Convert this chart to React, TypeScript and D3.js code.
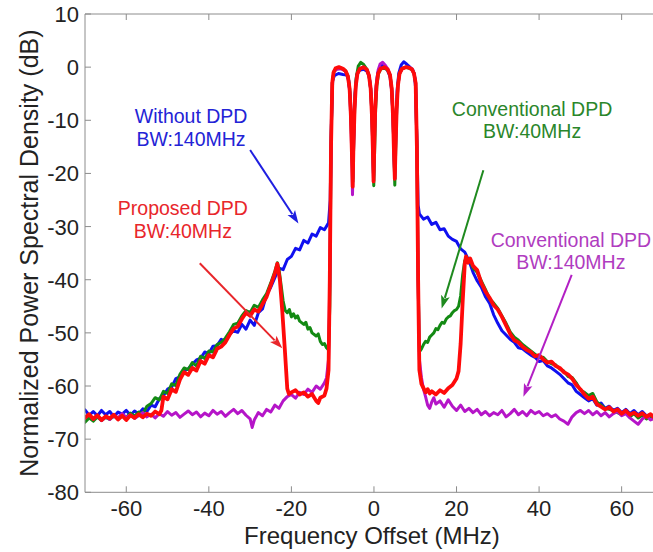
import React from "react";
import * as d3 from "d3";

// ---------- axes ----------
const FREQ_TICKS = [-60, -40, -20, 0, 20, 40, 60];
const PSD_TICKS = [10, 0, -10, -20, -30, -40, -50, -60, -70, -80];
const X_LABEL = "Frequency Offset (MHz)";
const Y_LABEL = "Normalized Power Spectral Density (dB)";

// ---------- series: [frequency offset MHz, PSD dB] ----------
const withoutDPD140: [number, number][] = [
  [-70, -64.5], [-69, -65.5], [-68, -64.8], [-67, -65.6], [-66, -64.6], [-65, -65.4], [-64, -64.8], [-63, -65.8],
  [-62, -64.9], [-61, -65.3], [-60, -64.6], [-59, -65.5], [-58, -64.7], [-57, -65.2], [-56, -64.3], [-55, -64.8],
  [-54, -63.6], [-53, -63.9], [-52, -62.4], [-51, -61.8], [-50, -60.6], [-49, -60.2], [-48, -58.6], [-47, -58.3],
  [-46, -57.1], [-45, -56.8], [-44, -55.9], [-43, -55.1], [-42, -54.8], [-41, -53.6], [-40, -53.9], [-39, -52.5],
  [-38, -52.4], [-37, -51.2], [-36, -51.6], [-35, -50.3], [-34, -49.6], [-33, -49.9], [-32, -48.4], [-31, -49.3],
  [-30, -47.6], [-29, -48.6], [-28, -46.2], [-27, -45.5], [-26, -42.8], [-25, -41.4], [-24, -39.6], [-23, -37.8],
  [-22, -38.1], [-21, -36.2], [-20, -35.6], [-19, -34.1], [-18, -34.4], [-17, -32.6], [-16, -33.1], [-15, -31.4],
  [-14, -31.8], [-13, -30.2], [-12, -30.6], [-11, -29.3], [-10.6, -25], [-10.3, -10], [-10, -2.5], [-9.6, -1.6],
  [-8.6, -1.2], [-7.5, -1.4], [-6.6, -1.5], [-6.1, -2.5], [-5.7, -6], [-5.4, -12], [-5.15, -21], [-4.9, -12],
  [-4.6, -5], [-4.2, -1.5], [-3.5, -0.6], [-2.5, -0.4], [-1.6, -0.8], [-1.1, -2], [-0.7, -5], [-0.4, -11],
  [-0.1, -20.5], [0.15, -11], [0.5, -4], [0.9, -1.2], [1.6, 0.4], [2.4, 0.2], [3.3, -0.6], [3.9, -1.8],
  [4.3, -4.5], [4.65, -10], [5.0, -20], [5.3, -11], [5.6, -4.5], [6.0, -1.2], [6.6, 0.4], [7.2, 1.0],
  [7.9, 0.6], [8.7, 0], [9.4, -0.5], [9.8, -1.4], [10.1, -4], [10.4, -14], [10.7, -26], [11, -27.6],
  [12, -28.6], [13, -28.2], [14, -29.6], [15, -29.2], [16, -30.6], [17, -30.4], [18, -31.8], [19, -32.4],
  [20, -32.8], [21, -34.2], [22, -34.8], [23, -36.4], [24, -38.6], [25, -40.2], [26, -41.4], [27, -43.2],
  [28, -44.4], [29, -46.6], [30, -48.2], [31, -49.6], [32, -50.4], [33, -51.2], [34, -51.8], [35, -52.8],
  [36, -53], [37, -53.6], [38, -54.2], [39, -54.6], [40, -55.4], [41, -55.2], [42, -56.2], [43, -56.6],
  [44, -57.2], [45, -57.8], [46, -58.6], [47, -59.4], [48, -59.8], [49, -61], [50, -61.6], [51, -62.2],
  [52, -62.8], [53, -62.4], [54, -63.6], [55, -63.2], [56, -64.2], [57, -63.8], [58, -64.6], [59, -64.2],
  [60, -65], [61, -64.4], [62, -65.2], [63, -64.6], [64, -65.4], [65, -64.8], [66, -65.6], [67, -65.4], [68, -66.4],
];

const conventional40: [number, number][] = [
  [-70, -66.8], [-69, -66], [-68, -66.6], [-67, -65.8], [-66, -66.5], [-65, -65.9], [-64, -66.3], [-63, -65.6],
  [-62, -66.2], [-61, -65.4], [-60, -65.9], [-59, -65.1], [-58, -65.7], [-57, -64.9], [-56, -65.2], [-55, -63.8],
  [-54, -63.3], [-53, -62.2], [-52, -62.6], [-51, -61], [-50, -61.4], [-49, -59.6], [-48, -59.9], [-47, -57.8],
  [-46, -56.6], [-45, -56.9], [-44, -55.6], [-43, -56.2], [-42, -54.4], [-41, -54.8], [-40, -53.4], [-39, -53.6],
  [-38, -52.2], [-37, -51.8], [-36, -51], [-35, -49.8], [-34, -48.4], [-33, -48.2], [-32, -46.8], [-31, -45.8],
  [-30, -46.2], [-29, -44.8], [-28, -45.2], [-27, -43.8], [-26, -42.6], [-25, -40.6], [-24, -38.4], [-23.4, -36.8],
  [-23, -38], [-22.5, -41], [-22, -44], [-21.5, -45.8], [-21, -46.2], [-20.5, -45.6], [-20, -47], [-19.5, -46.4],
  [-19, -47.2], [-18.5, -46.8], [-18, -47.8], [-17, -48.4], [-16.5, -48], [-16, -49.3], [-15.5, -49], [-15, -50],
  [-14, -50.6], [-13.5, -50.2], [-13, -51.6], [-12.5, -52.2], [-12, -52], [-11.5, -52.8], [-11, -53.2], [-10.7, -45],
  [-10.4, -15], [-10.1, -3], [-9.7, -0.8], [-9, -0.3], [-8, -0.2], [-7, -0.6], [-6.3, -1.6], [-5.9, -4],
  [-5.6, -9], [-5.3, -16], [-5.1, -21.5], [-4.9, -14], [-4.6, -6], [-4.3, -2], [-3.8, 0.2], [-3.2, 0.9],
  [-2.5, 0.5], [-1.7, -0.4], [-1.2, -1.6], [-0.8, -4], [-0.5, -9], [-0.25, -16], [-0.05, -22.3], [0.15, -16],
  [0.4, -8], [0.7, -3.5], [1.1, -1.2], [1.7, -0.3], [2.5, -0.2], [3.3, -0.5], [3.9, -1.5], [4.3, -4],
  [4.6, -9], [4.85, -16], [5.05, -22.2], [5.25, -16], [5.5, -8], [5.8, -3.5], [6.2, -1.2], [6.8, -0.3],
  [7.7, 0], [8.5, -0.2], [9.2, -0.5], [9.7, -1.2], [10.1, -3], [10.4, -15], [10.7, -40], [11, -53.6],
  [11.5, -53], [12, -52.2], [12.5, -51.6], [13, -51.8], [13.5, -50.8], [14, -50.4], [14.5, -50], [15, -49.2],
  [15.5, -49.4], [16, -48.6], [16.5, -48], [17, -48.2], [17.5, -47.4], [18, -47], [18.5, -46.8], [19, -46.2],
  [19.5, -45.8], [20, -45.6], [20.5, -45], [21, -43], [21.5, -39], [22, -36.4], [22.5, -36], [23.3, -36.4],
  [24, -37.8], [25, -38.6], [26, -40.2], [27, -41.8], [28, -43.6], [29, -44.4], [30, -45.4], [31, -46.8],
  [32, -48.2], [33, -49.8], [34, -50.8], [35, -51.4], [36, -52.2], [37, -52.8], [38, -53.4], [39, -54],
  [40, -54.6], [41, -54.6], [42, -55.4], [43, -55.8], [44, -56], [45, -56.8], [46, -57.2], [47, -58.2],
  [48, -58.4], [49, -59.4], [50, -60.8], [51, -61.2], [52, -61.8], [53, -61.4], [54, -63], [55, -63.6],
  [56, -64.2], [57, -64.4], [58, -64.6], [59, -65], [60, -65.4], [61, -65], [62, -65.8], [63, -65.2],
  [64, -66], [65, -65.5], [66, -66.2], [67, -65.6], [68, -66.4],
];

const conventional140: [number, number][] = [
  [-70, -66], [-69, -65.4], [-68, -66.2], [-67, -65.6], [-66, -66.5], [-65, -65.8], [-64, -66.3], [-63, -65.5],
  [-62, -66], [-61, -65.2], [-60, -65.9], [-59, -65.4], [-58, -66.1], [-57, -65.6], [-56, -65], [-55, -65.8],
  [-54, -65.3], [-53, -66], [-52, -65.2], [-51, -65.7], [-50, -64.8], [-49, -65.5], [-48, -65], [-47, -65.9],
  [-46, -65.3], [-45, -64.7], [-44, -65.4], [-43, -64.9], [-42, -65.8], [-41, -65.1], [-40, -65.6], [-39, -64.6],
  [-38, -65.3], [-37, -64.8], [-36, -65.7], [-35, -65], [-34, -64.4], [-33, -65.2], [-32, -64.6], [-31, -65.5],
  [-30, -66.2], [-29.5, -67.8], [-29, -66.4], [-28, -65], [-27, -65.6], [-26, -64.4], [-25, -64.9], [-24, -63.6],
  [-23, -64.2], [-22, -62.8], [-21, -62], [-20, -61.6], [-19, -62.3], [-18, -61.2], [-17, -61.6], [-16, -60.6],
  [-15, -61.2], [-14, -60], [-13, -60.6], [-12, -59.4], [-11.5, -58.5], [-11, -55], [-10.7, -40], [-10.4, -15],
  [-10.1, -3], [-9.7, -0.9], [-9, -0.4], [-8, -0.3], [-7, -0.7], [-6.3, -1.8], [-5.9, -4.5], [-5.6, -10],
  [-5.35, -17], [-5.2, -24], [-5.0, -17], [-4.7, -8], [-4.4, -3.5], [-4, -1.2], [-3.4, -0.3], [-2.5, 0],
  [-1.7, -0.5], [-1.2, -1.6], [-0.8, -4], [-0.5, -9], [-0.25, -16], [-0.1, -21.5], [0.05, -16], [0.3, -8],
  [0.6, -3], [1, -0.6], [1.5, 0.6], [2.1, 0.9], [2.8, 0.3], [3.4, -0.4], [3.9, -1.5], [4.3, -4],
  [4.6, -9], [4.85, -16], [5.05, -21], [5.2, -16], [5.5, -8], [5.8, -3.5], [6.2, -1.2], [6.8, -0.3],
  [7.7, 0], [8.5, -0.1], [9.2, -0.4], [9.7, -1.2], [10.1, -3], [10.4, -15], [10.7, -40], [11, -55],
  [11.5, -58.4], [12, -60.6], [12.5, -62], [13, -63.6], [13.5, -64.2], [14, -63], [14.5, -62.2], [15, -63.4],
  [16, -62.8], [17, -64], [18, -62.6], [19, -63.8], [20, -64.6], [21, -63.6], [22, -64.8], [23, -64.2],
  [24, -65], [25, -64.4], [26, -65.4], [27, -64.8], [28, -65.6], [29, -65], [30, -65.4], [31, -64.6],
  [32, -65.8], [33, -65.2], [34, -64.4], [35, -65.4], [36, -64.8], [37, -65.6], [38, -64.6], [39, -65.2],
  [40, -64.8], [41, -65.6], [42, -65.2], [43, -65.8], [44, -65.4], [45, -66.2], [46, -66.6], [47, -67.2],
  [48, -65.8], [49, -65], [50, -64.6], [51, -65.2], [52, -64.6], [53, -65.4], [54, -64.8], [55, -65.6],
  [56, -65], [57, -65.8], [58, -65.2], [59, -64.8], [60, -65.6], [61, -65.2], [62, -66], [63, -66.6],
  [64, -67.2], [65, -66.2], [66, -65.6], [67, -66.4], [68, -66],
];

const proposed40: [number, number][] = [
  [-70, -66], [-69, -65.3], [-68, -66.2], [-67, -65.5], [-66, -66.4], [-65, -65.7], [-64, -66.1], [-63, -65.4],
  [-62, -66.3], [-61, -65.6], [-60, -66.4], [-59, -65.5], [-58, -66], [-57, -65.3], [-56, -65.9], [-55, -65.2],
  [-54, -65.6], [-53, -64.8], [-52, -65.3], [-51.5, -64.6], [-51, -62], [-50, -62.5], [-49, -60.6], [-48, -61.1],
  [-47, -58.8], [-46, -57.4], [-45, -57.9], [-44, -56.6], [-43, -57.1], [-42, -55.3], [-41, -55.8], [-40, -54.2],
  [-39, -54.6], [-38, -53], [-37, -52.6], [-36, -51.8], [-35, -50.4], [-34, -49.2], [-33, -48.8], [-32, -47.4],
  [-31, -46.2], [-30, -46.8], [-29, -45.6], [-28, -46], [-27, -44.6], [-26, -43.2], [-25, -41], [-24, -38.8],
  [-23.4, -37], [-22.8, -40], [-22.2, -46], [-21.6, -53], [-21, -60.5], [-20.6, -61.5], [-20, -61.2], [-19, -60.8],
  [-18, -61.6], [-17, -61.2], [-16, -62], [-15, -61.5], [-14, -62.8], [-13.5, -63.2], [-13, -62.2], [-12, -61.8],
  [-11.5, -60.5], [-11, -57], [-10.7, -40], [-10.4, -15], [-10.1, -3], [-9.8, -1], [-9.3, -0.2], [-8.5, 0],
  [-7.5, -0.3], [-6.8, -0.8], [-6.3, -1.8], [-5.9, -4], [-5.6, -9], [-5.35, -16], [-5.15, -22.5], [-5, -16],
  [-4.7, -8], [-4.4, -3.5], [-4, -1.2], [-3.4, -0.3], [-2.5, 0], [-1.7, -0.5], [-1.2, -1.6], [-0.8, -4],
  [-0.5, -9], [-0.25, -16], [-0.1, -21.5], [0.05, -16], [0.3, -8], [0.6, -3.5], [1, -1.2], [1.6, -0.3],
  [2.5, 0], [3.3, -0.4], [3.9, -1.5], [4.3, -4], [4.6, -9], [4.85, -16], [5.05, -21], [5.2, -16],
  [5.5, -8], [5.8, -3.5], [6.2, -1.2], [6.8, -0.3], [7.7, 0], [8.5, -0.1], [9.2, -0.4], [9.7, -1.2],
  [10.1, -3], [10.4, -15], [10.7, -40], [11, -57], [11.5, -59.6], [12, -60.4], [12.5, -61.2], [13, -60.6],
  [13.5, -61.4], [14, -61], [15, -61.6], [16, -60.8], [17, -61.3], [18, -60.4], [19, -59.8], [19.5, -59.2],
  [20, -58.6], [20.5, -57.2], [21, -52], [21.5, -44], [22, -37], [22.3, -35.6], [22.8, -36.8], [23.3, -36],
  [24, -37.4], [25, -38.2], [26, -40.6], [27, -42.2], [28, -43.4], [29, -44.8], [30, -45.6], [31, -47],
  [32, -48.6], [33, -50.2], [34, -51.4], [35, -51.8], [36, -52.6], [37, -53.2], [38, -53.6], [39, -54.4],
  [40, -54.2], [41, -55], [42, -55.6], [43, -55.4], [44, -56.2], [45, -56.6], [46, -57.4], [47, -57.8],
  [48, -58.6], [49, -59.8], [50, -60.6], [51, -61.6], [52, -62.4], [53, -62], [54, -63.4], [55, -63.9],
  [56, -64.4], [57, -64], [58, -64.8], [59, -64.4], [60, -65.2], [61, -64.6], [62, -65.4], [63, -65],
  [64, -65.6], [65, -65.1], [66, -65.8], [67, -65.3], [68, -66],
];

// ---------- annotations (data coordinates) ----------
const ANNOT_LINES = [
  { key: "wo", lines: ["Without DPD", "BW:140MHz"], f: -44.3, v: [-10.5, -14.8], color: "#2323d6" },
  { key: "pr", lines: ["Proposed DPD", "BW:40MHz"], f: -46.3, v: [-27.8, -32.1], color: "#e8262b" },
  { key: "c40", lines: ["Conventional DPD", "BW:40MHz"], f: 38.3, v: [-9.1, -13.4], color: "#2a862a" },
  { key: "c140", lines: ["Conventional DPD", "BW:140MHz"], f: 47.7, v: [-33.8, -38.0], color: "#b03cc0" },
];
const ARROW_FROM: [number, number][] = [[-30, -15.6], [-42.2, -36.9], [26.5, -19.4], [47.9, -39.1]];
const ARROW_TO: [number, number][] = [[-18.3, -29.4], [-22.2, -52.9], [16.4, -45.4], [36.2, -62]];
const ARROW_COLORS = ["#1f1fe0", "#e8262b", "#1f8a1f", "#b21fc4"];

const SERIES = [
  { key: "blue", data: withoutDPD140, color: "#1010f0", width: 3 },
  { key: "green", data: conventional40, color: "#138a13", width: 3 },
  { key: "magenta", data: conventional140, color: "#b515c8", width: 3 },
  { key: "red", data: proposed40, color: "#ff0a0a", width: 3.8 },
];

const W = 653;
const H = 552;
const LEFT = 85;
const TOP = 14;
const BOTTOM = 492.3;
const FONT = "'Liberation Sans', Arial, Helvetica, sans-serif";

export default function App() {
  const x = d3.scaleLinear().domain([-70, 70]).range([LEFT, LEFT + 140 * 4.128]);
  const y = d3.scaleLinear().domain([-80, 10]).range([BOTTOM, TOP]);
  const line = d3
    .line<[number, number]>()
    .x((d) => x(d[0]))
    .y((d) => y(d[1]))
    .curve(d3.curveLinear);
  const axisColor = "#8c8c8c";
  const textColor = "#222";

  return (
    <svg
      width={W}
      height={H}
      style={{ position: "absolute", left: 0, top: 0, background: "#fff" }}
      fontFamily={FONT}
    >
      <defs>
        <clipPath id="plotclip">
          <rect x={LEFT} y={TOP} width={W - LEFT} height={BOTTOM - TOP} />
        </clipPath>
      </defs>
      <rect x={0} y={0} width={W} height={H} fill="#fff" />

      {/* curves */}
      <g clipPath="url(#plotclip)" fill="none" strokeLinejoin="round" strokeLinecap="round">
        {SERIES.map((s) => (
          <path key={s.key} d={line(s.data) || ""} stroke={s.color} strokeWidth={s.width} />
        ))}
      </g>

      {/* axes frame */}
      <g stroke={axisColor} strokeWidth={1} fill="none">
        <line x1={LEFT} x2={W} y1={TOP} y2={TOP} />
        <line x1={LEFT} x2={W} y1={BOTTOM} y2={BOTTOM} />
        <line x1={LEFT} x2={LEFT} y1={TOP} y2={BOTTOM} />
        {FREQ_TICKS.map((t) => (
          <g key={"xt" + t}>
            <line x1={x(t)} x2={x(t)} y1={BOTTOM} y2={BOTTOM - 6} />
            <line x1={x(t)} x2={x(t)} y1={TOP} y2={TOP + 6} />
          </g>
        ))}
        {PSD_TICKS.map((t) => (
          <line key={"yt" + t} x1={LEFT} x2={LEFT + 6} y1={y(t)} y2={y(t)} />
        ))}
      </g>

      {/* tick labels */}
      <g fill={textColor} fontSize={22}>
        {FREQ_TICKS.map((t) => (
          <text key={"xl" + t} x={x(t)} y={BOTTOM + 24} textAnchor="middle">
            {t}
          </text>
        ))}
      </g>
      <g fill={textColor} fontSize={22}>
        {PSD_TICKS.map((t) => (
          <text key={"yl" + t} x={LEFT - 6} y={y(t) + 8} textAnchor="end">
            {t}
          </text>
        ))}
      </g>

      {/* axis titles */}
      <text x={x(-0.5)} y={544} textAnchor="middle" fontSize={24} fill={textColor}>
        {X_LABEL}
      </text>
      <text
        transform={`translate(38, ${(TOP + BOTTOM) / 2 - 0}) rotate(-90)`}
        textAnchor="middle"
        fontSize={25}
        fill={textColor}
      >
        {Y_LABEL}
      </text>

      {/* annotations */}
      {ANNOT_LINES.map((a) => (
        <g key={a.key} fill={a.color} fontSize={19.5} textAnchor="middle">
          {a.lines.map((ln, i) => (
            <text key={i} x={x(a.f)} y={y(a.v[i])}>
              {ln}
            </text>
          ))}
        </g>
      ))}
      {ARROW_FROM.map((from, i) => {
        const x1 = x(from[0]);
        const y1 = y(from[1]);
        const x2 = x(ARROW_TO[i][0]);
        const y2 = y(ARROW_TO[i][1]);
        const ang = Math.atan2(y2 - y1, x2 - x1);
        const len = 13;
        const half = 4.5;
        const bx = x2 - len * Math.cos(ang);
        const by = y2 - len * Math.sin(ang);
        const px = -Math.sin(ang);
        const py = Math.cos(ang);
        const head = `M${x2},${y2} L${bx + half * px},${by + half * py} L${bx + 3 * Math.cos(ang)},${by + 3 * Math.sin(ang)} L${bx - half * px},${by - half * py} Z`;
        return (
          <g key={"arr" + i}>
            <line x1={x1} y1={y1} x2={bx + 2 * Math.cos(ang)} y2={by + 2 * Math.sin(ang)} stroke={ARROW_COLORS[i]} strokeWidth={2} />
            <path d={head} fill={ARROW_COLORS[i]} />
          </g>
        );
      })}
    </svg>
  );
}
